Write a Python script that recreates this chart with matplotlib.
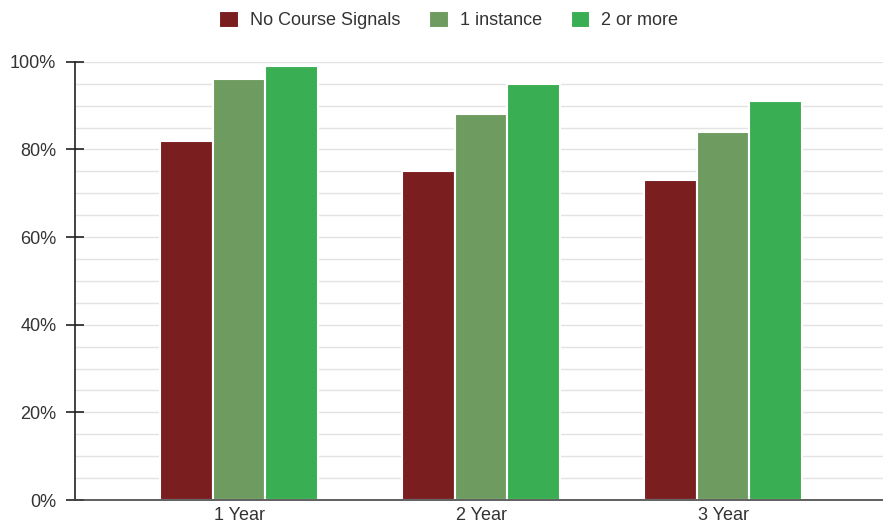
import numpy as np
import matplotlib.pyplot as plt
from matplotlib.ticker import MultipleLocator, PercentFormatter

plt.rcParams['font.family'] = ['Liberation Sans', 'DejaVu Sans']

# Data
years = ['1 Year', '2 Year', '3 Year']
series_names = ['No Course Signals', '1 instance', '2 or more']
no_signals = [82, 75, 73]
one_instance = [96, 88, 84]
two_or_more = [99, 95, 91]
colors = ['#7a1e20', '#6e9b5f', '#3aae52']

fig = plt.figure(figsize=(8.83, 5.28), dpi=100)
ax = fig.add_axes([0.085, 0.053, 0.915, 0.830])

x = np.arange(len(years))
w = 0.218
for i, (vals, name, c) in enumerate(zip([no_signals, one_instance, two_or_more], series_names, colors)):
    ax.bar(x + (i - 1) * w, vals, width=w, color=c, edgecolor='white', linewidth=1.5,
           label=name, zorder=3)

ax.set_ylim(0, 100)
ax.set_xlim(-0.678, 2.661)
ax.yaxis.set_major_locator(MultipleLocator(20))
ax.yaxis.set_minor_locator(MultipleLocator(5))
ax.yaxis.set_major_formatter(PercentFormatter(decimals=0))
ax.grid(axis='y', which='both', color='#e3e3e3', linewidth=1, zorder=0)
ax.tick_params(axis='y', which='major', direction='inout', length=13, width=1.2,
               labelsize=13, colors='#222222', labelcolor='#333333', pad=7)
ax.tick_params(axis='y', which='minor', length=0)
ax.set_xticks(x)
ax.set_xticklabels(years)
ax.tick_params(axis='x', length=0, labelsize=13, labelcolor='#333333', pad=5)

for s in ['top', 'right']:
    ax.spines[s].set_visible(False)
ax.spines['left'].set_color('#222222')
ax.spines['left'].set_linewidth(1.2)
ax.spines['bottom'].set_color('#444444')
ax.spines['bottom'].set_linewidth(1.2)
ax.spines['left'].set_zorder(4)
ax.spines['bottom'].set_zorder(4)

handles, labels = ax.get_legend_handles_labels()
fig.legend(handles, labels, loc='center', bbox_to_anchor=(0.508, 0.962), ncol=3,
           frameon=False, fontsize=13, handlelength=1.1, handleheight=1.1,
           handletextpad=0.6, columnspacing=1.6, labelcolor='#333333')

fig.savefig('out.png', dpi=100)
